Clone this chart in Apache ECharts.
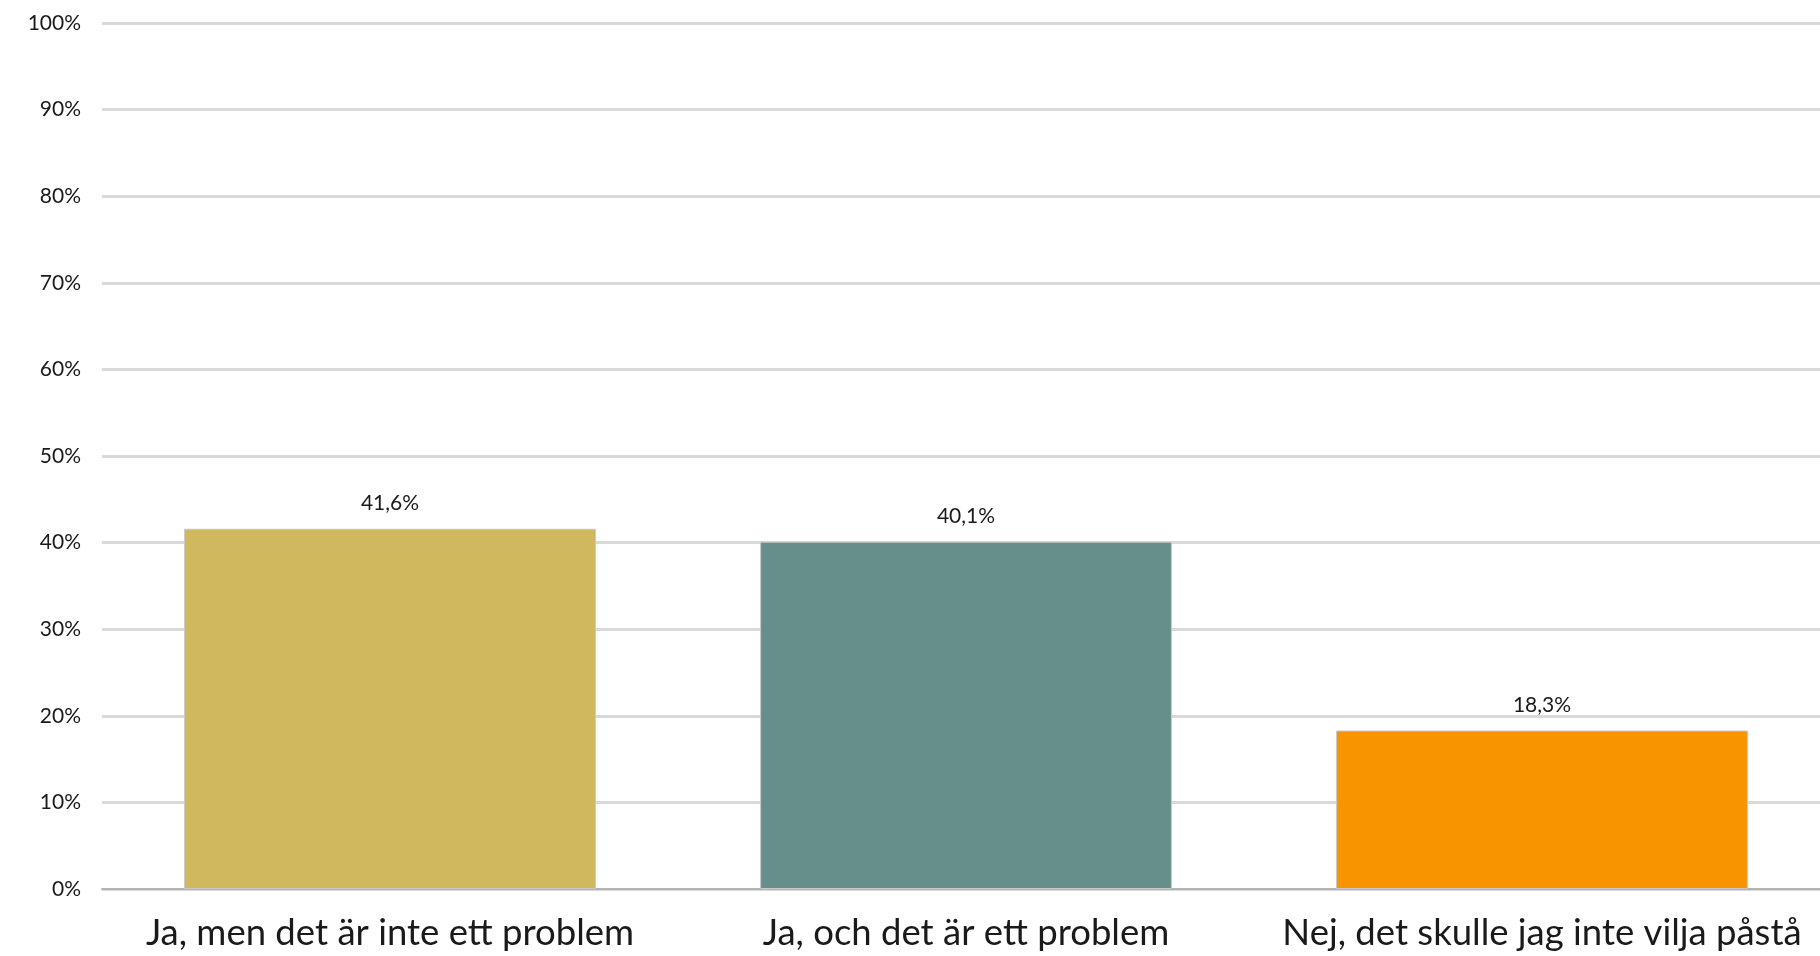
<!DOCTYPE html>
<html>
<head>
<meta charset="utf-8">
<script src="https://cdn.jsdelivr.net/npm/echarts@6/dist/echarts.min.js"></script>
<style>
  html, body { margin: 0; padding: 0; background: #fff; overflow: hidden; }
  /* plottytan går ut något över högerkanten, som i originalet */
  #chart { width: 1830px; height: 956px; }
</style>
</head>
<body>
<div id="chart"></div>
<script>
// svarsalternativ och andel i procent
const categories = [
  "Ja, men det är inte ett problem",
  "Ja, och det är ett problem",
  "Nej, det skulle jag inte vilja påstå"
];
const values = [41.6, 40.1, 18.3];
const barColors = ["#D0B85F", "#668F8B", "#F79400"];

const myChart = echarts.init(document.getElementById("chart"));
const option = {
  backgroundColor: "#fff",
  animation: false,
  grid: { left: 102, right: 0, top: 23, bottom: 67, containLabel: false },
  xAxis: {
    type: "category",
    data: categories,
    axisTick: { show: false },
    axisLine: { lineStyle: { color: "#b4b4b4", width: 2 } },
    axisLabel: {
      color: "#1a1a1a",
      fontFamily: "Lato",
      fontSize: 36.5,
      margin: 26,
      interval: 0
    }
  },
  yAxis: {
    type: "value",
    min: 0,
    max: 100,
    interval: 10,
    axisLine: { show: false },
    axisTick: { show: false },
    splitLine: { lineStyle: { color: "#d9d9d9", width: 3 } },
    axisLabel: {
      formatter: "{value}%",
      color: "#1a1a1a",
      fontFamily: "Lato",
      fontSize: 21,
      margin: 21
    }
  },
  series: [
    {
      type: "bar",
      barWidth: "71.5%",
      data: values.map((v, i) => ({
        value: v,
        itemStyle: { color: barColors[i], borderColor: "#c8c8c8", borderWidth: 1 }
      })),
      label: {
        show: true,
        position: "top",
        distance: 15,
        color: "#1a1a1a",
        fontFamily: "Lato",
        fontSize: 21,
        formatter: p => p.value.toFixed(1).replace(".", ",") + "%"
      }
    }
  ]
};
option && myChart.setOption(option);
</script>
</body>
</html>
